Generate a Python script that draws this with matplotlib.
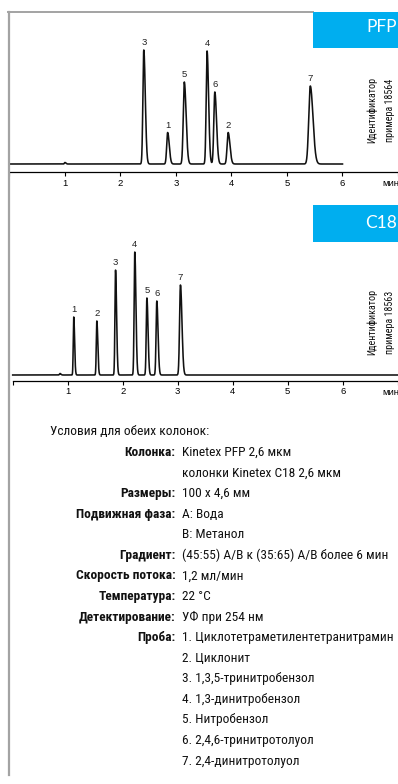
import numpy as np
import matplotlib
matplotlib.use("Agg")
import matplotlib.pyplot as plt
from matplotlib.lines import Line2D
from matplotlib.patches import Rectangle
from matplotlib.font_manager import fontManager

# ---------------- data ----------------
pfp_labels = ["3", "1", "5", "4", "6", "2", "7"]
pfp_rt = [2.42, 2.85, 3.15, 3.56, 3.70, 3.94, 5.42]
pfp_height = [114, 31.5, 82, 113, 72, 31.5, 78]
pfp_sigma = [0.016, 0.017, 0.019, 0.016, 0.018, 0.019, 0.028]
pfp_minor_rt = [1.00]
pfp_minor_height = [1.5]

c18_labels = ["1", "2", "3", "4", "5", "6", "7"]
c18_rt = [1.11, 1.53, 1.87, 2.22, 2.44, 2.62, 3.05]
c18_height = [58, 54, 105, 123, 77, 74, 90]
c18_sigma = [0.009, 0.010, 0.011, 0.012, 0.012, 0.013, 0.016]
c18_minor_rt = [0.86]
c18_minor_height = [1.5]

tick_values = [0, 1, 2, 3, 4, 5, 6, 7]
tick_labels = ["", "1", "2", "3", "4", "5", "6", ""]

conditions_title = "Условия для обеих колонок:"
cond_keys = ["Колонка:", "", "Размеры:", "Подвижная фаза:", "", "Градиент:",
             "Скорость потока:", "Температура:", "Детектирование:", "Проба:",
             "", "", "", "", "", ""]
cond_values = ["Kinetex PFP 2,6 мкм", "колонки Kinetex C18 2,6 мкм", "100 x 4,6 мм",
               "A: Вода", "B: Метанол", "(45:55) A/B к (35:65) A/B более 6 мин",
               "1,2 мл/мин", "22 °C", "УФ при 254 нм",
               "1. Циклотетраметилентетранитрамин", "2. Циклонит",
               "3. 1,3,5-тринитробензол", "4. 1,3-динитробензол", "5. Нитробензол",
               "6. 2,4,6-тринитротолуол", "7. 2,4-динитротолуол"]

# ---------------- setup ----------------
W, H = 398, 784
DPI = 100
fig = plt.figure(figsize=(W / DPI, H / DPI), dpi=DPI)
fig.patch.set_facecolor("white")

BLUE = "#00aeef"
GRAY = "#a3a3a3"

names = {f.name for f in fontManager.ttflist}
cond_family = None
for cand in ["Liberation Sans Narrow", "Roboto Condensed", "Open Sans Condensed",
             "Noto Sans Condensed"]:
    if cand in names:
        cond_family = cand
        break
cond_stretch = "normal"
if cond_family is None:
    if any(f.name == "DejaVu Sans" and f.stretch in ("condensed", 600) for f in fontManager.ttflist):
        cond_family = "DejaVu Sans"
        cond_stretch = "condensed"
    else:
        cond_family = "Liberation Sans"

tick_family = "Liberation Sans"


def fx(x):
    return x / W


def fy(y):
    return 1 - y / H


def peaks(t, rts, hs, sig):
    y = np.zeros_like(t)
    for r, h, s in zip(rts, hs, sig):
        ss = np.where(t < r, s, s * 1.7)
        y += h * np.exp(-0.5 * ((t - r) / ss) ** 2)
    return y


def chromatogram(top_px, bottom_px, base_px, axis_px, x0_px, ppm, t_end,
                 rts, hs, sig, labels, mrts, mhs):
    ax = fig.add_axes([0, fy(bottom_px), 1, (bottom_px - top_px) / H])
    ax.patch.set_visible(False)
    ax.set_xlim(-x0_px / ppm, (W - x0_px) / ppm)
    ax.set_ylim(-(bottom_px - base_px), base_px - top_px)
    t = np.linspace(0, t_end, 4000)
    y = peaks(t, rts, hs, sig) + peaks(t, mrts, mhs, [0.01] * len(mrts))
    ax.plot(t, y, color="#111111", lw=1.15, solid_joinstyle="round")
    for r, lab in zip(rts, labels):
        m = (t > r - 0.03) & (t < r + 0.03)
        ytop = y[m].max()
        ax.annotate(lab, (r, ytop), xytext=(0, 2.0), textcoords="offset points",
                    ha="center", va="bottom", fontsize=6.8, family=tick_family,
                    color="#222222")
    for s in ["top", "right", "left"]:
        ax.spines[s].set_visible(False)
    ax.spines["bottom"].set_position(("data", -(axis_px - base_px)))
    ax.spines["bottom"].set_bounds(0, 7)
    ax.spines["bottom"].set_linewidth(0.9)
    ax.set_xticks(tick_values)
    ax.set_xticklabels(tick_labels, family=tick_family, fontsize=6.8)
    ax.tick_params(axis="x", direction="out", length=3.2, width=0.8, pad=1.5)
    ax.set_yticks([])
    return ax


ax1 = chromatogram(15, 195, 164, 172.3, 9.5, 55.8, 6.0, pfp_rt, pfp_height,
                   pfp_sigma, pfp_labels, pfp_minor_rt, pfp_minor_height)
ax2 = chromatogram(200, 400, 375, 380.7, 12.7, 55.0, 7.0, c18_rt, c18_height,
                   c18_sigma, c18_labels, c18_minor_rt, c18_minor_height)

# "мин" labels
fig.text(fx(382), fy(183), "мин", fontsize=6.8, family=tick_family, ha="left", va="center")
fig.text(fx(382), fy(392.5), "мин", fontsize=6.8, family=tick_family, ha="left", va="center")

# frame lines
fig.add_artist(Line2D([fx(8), fx(313)], [fy(12), fy(12)], color=GRAY, lw=1.4,
                      transform=fig.transFigure))
fig.add_artist(Line2D([fx(8.7), fx(8.7)], [fy(12), fy(775)], color=GRAY, lw=1.6,
                      transform=fig.transFigure))

# blue boxes
for (y0, y1, label, ycen) in [(12, 48, "PFP", 27.5), (205, 241.7, "C18", 222.5)]:
    fig.add_artist(Rectangle((fx(313), fy(y1)), (W - 313) / W, (y1 - y0) / H,
                             transform=fig.transFigure, facecolor=BLUE,
                             edgecolor="none", zorder=5))
    fig.text(fx(397), fy(ycen), label, ha="right", va="center", color="white",
             fontsize=12.5, family=["Lato", "DejaVu Sans"], fontweight="normal",
             zorder=10)

# side labels
side_texts = []
for (ycen, num) in [(110, "18564"), (322, "18563")]:
    t1 = fig.text(fx(372), fy(ycen), "Идентификатор", rotation=90, ha="center",
                  va="center", family=cond_family, fontstretch=cond_stretch,
                  fontsize=8, color="#111111")
    t2 = fig.text(fx(390), fy(ycen), "примера " + num, rotation=90, ha="center",
                  va="center", family=cond_family, fontstretch=cond_stretch,
                  fontsize=8, color="#111111")
    side_texts += [t1, t2]

# conditions block
row0 = 432.0
step = 20.57
title_t = fig.text(fx(50), fy(row0), conditions_title, ha="left", va="center",
                   family=cond_family, fontstretch=cond_stretch, fontsize=10,
                   color="#111111")
key_texts = []
val_texts = []
for i, (k, v) in enumerate(zip(cond_keys, cond_values)):
    yy = row0 + step * (i + 1)
    if k:
        key_texts.append(fig.text(fx(175.5), fy(yy), k, ha="right", va="center",
                                  family=cond_family, fontstretch=cond_stretch,
                                  fontweight="bold", fontsize=10, color="#111111"))
    val_texts.append(fig.text(fx(182), fy(yy), v, ha="left", va="center",
                              family=cond_family, fontstretch=cond_stretch,
                              fontsize=10, color="#111111"))

# auto-size fonts so widths match the reference
fig.canvas.draw()
r = fig.canvas.get_renderer()


def fit(texts, ref_text, target_px, maxsize, vertical=False):
    ext = ref_text.get_window_extent(r)
    w = ext.height if vertical else ext.width
    size = min(maxsize, ref_text.get_fontsize() * target_px / w)
    for t in texts:
        t.set_fontsize(size)


fit(val_texts + [title_t], val_texts[9], 214, 9.6)
fit(key_texts, key_texts[3], 113, 9.6)
fit(side_texts, side_texts[0], 66, 8.5, vertical=True)

fig.savefig("out.png", dpi=DPI, facecolor="white")
